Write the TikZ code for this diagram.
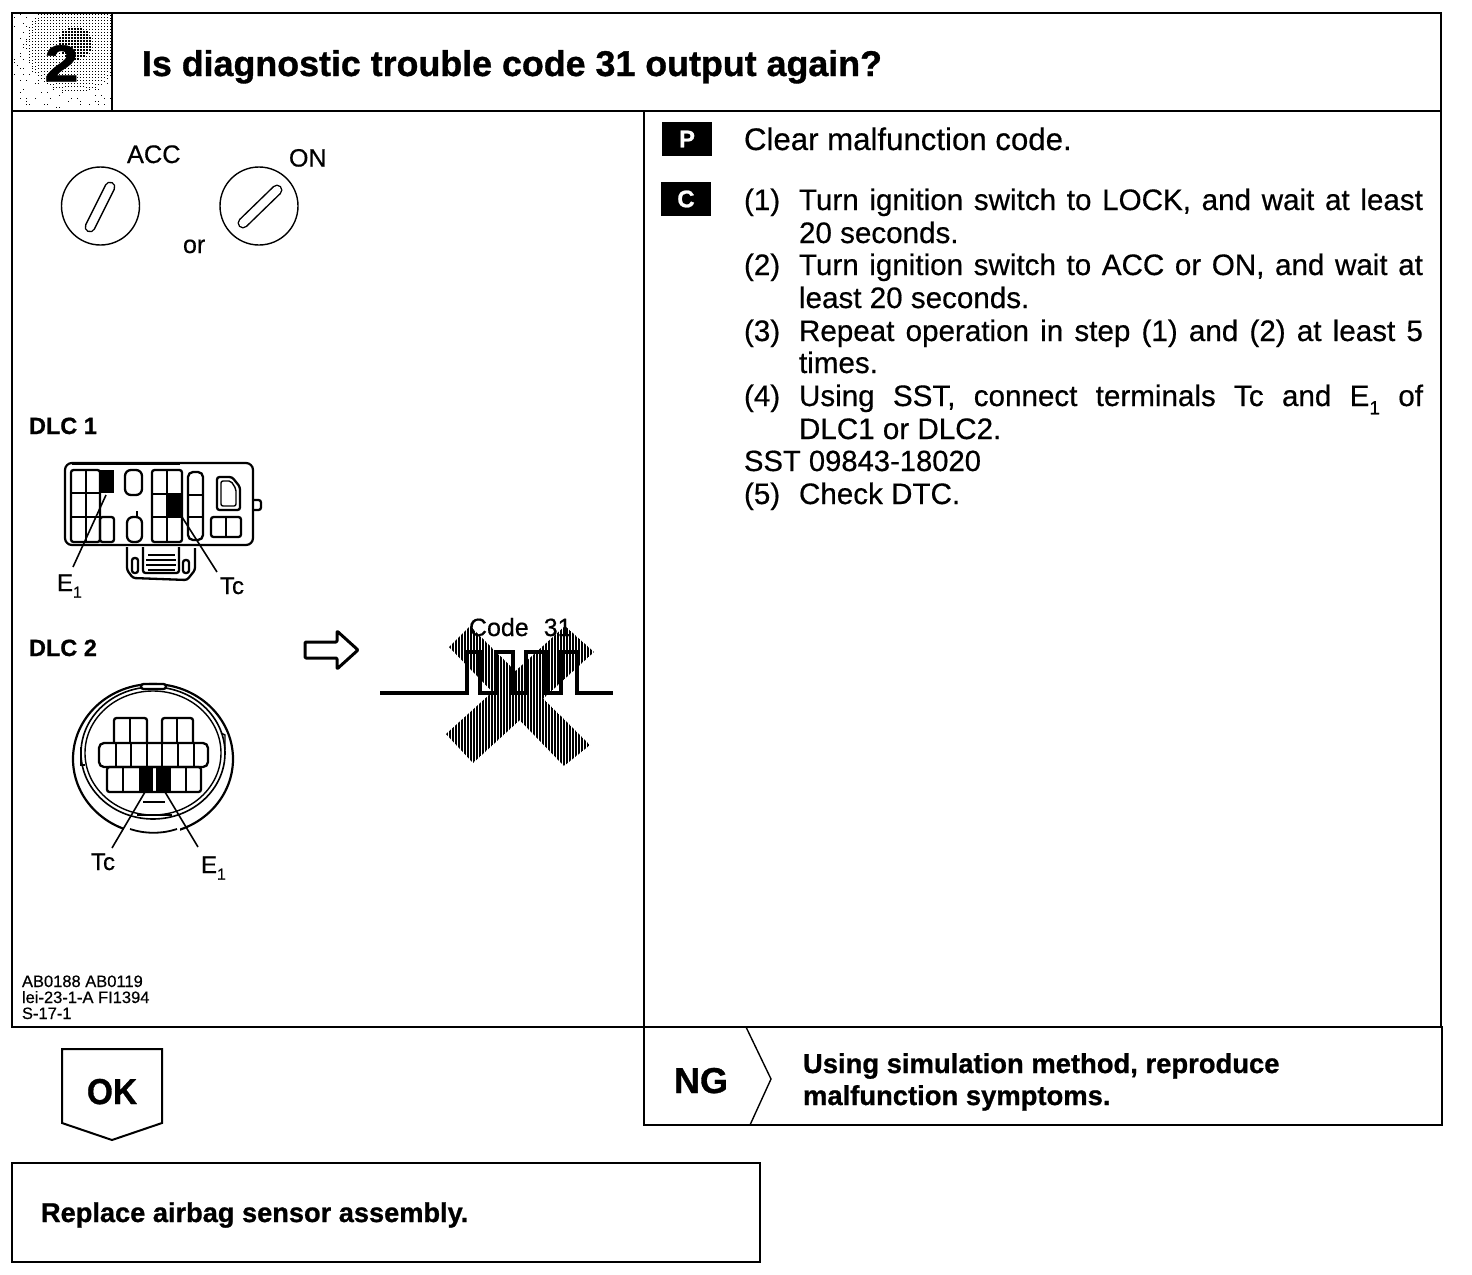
\documentclass[tikz,border=0pt]{standalone}
\usepackage{fontspec}
\setmainfont{Liberation Sans}[FakeBold=0.5,BoldFont={Liberation Sans Bold},BoldFeatures={FakeBold=0.9}]
\usetikzlibrary{patterns.meta}
\newcommand{\fsz}[1]{\fontsize{#1}{#1}\selectfont}
\newcommand{\subone}[1]{\raisebox{-0.28em}{\fontsize{#1}{#1}\selectfont 1}}
\tikzset{
  tx/.style={anchor=base west,inner sep=0pt,outer sep=0pt},
  body/.style={tx,font=\fsz{29.6}},
  boldbody/.style={tx,font=\fsz{27.4}\bfseries},
  small/.style={tx,font=\fsz{16.5}},
  lab/.style={tx,font=\fsz{24}},
  dlc/.style={tx,font=\fsz{23.5}\bfseries},
  frame/.style={line width=2.4pt,line cap=rect},
  thin/.style={line width=1.4pt},
  conn/.style={line width=2.3pt,rounded corners=2.5pt},
  leader/.style={line width=1.6pt},
  tag/.style={fill=black,text=white,minimum width=50pt,minimum height=34pt,inner sep=0pt,font=\fsz{24}\bfseries},
  hatch/.style={pattern={Lines[angle=90,distance=3pt,line width=1.3pt]},pattern color=black},
}
\begin{document}
\begin{tikzpicture}[x=1pt,y=-1pt]
\useasboundingbox (0,0) rectangle (1472,1274);
\fill[white] (0,0) rectangle (1472,1274);

% halftone number box
\pgfmathsetseed{7}
\foreach \i in {14,17,...,110}{
  \foreach \j in {15,18,...,109}{
    \pgfmathsetmacro{\dd}{sqrt((\i-74)*(\i-74)+(\j-44)*(\j-44))}
    \pgfmathsetmacro{\ss}{max(((rnd<0.14)?1.0:0),2.1*(1-\dd/58))}
    \ifdim\ss pt>0.35pt
      \fill[black] (\i,\j) rectangle ++(\ss pt,\ss pt);
    \fi
  }
}
\node[anchor=base,inner sep=0pt,font=\fsz{52}\bfseries,xscale=1.18] (num) at (61.5,81.5) {2};

% frames
\draw[frame] (12,13) rectangle (1441,1027);
\draw[frame] (12,111) -- (1441,111);
\draw[frame] (112,13) -- (112,111);
\draw[frame] (644,111) -- (644,1125) -- (1442,1125) -- (1442,1027);
\draw[frame] (12,1163) rectangle (760,1262);

% title
\node[tx,font=\fsz{35.8}\bfseries] (title) at (142,76) {Is diagnostic trouble code 31 output again?};

% key switches
\draw[thin] (100.5,206) circle [radius=39];
\draw[line width=11pt,line cap=round] (110,187) -- (90,227);
\draw[white,line width=8pt,line cap=round] (110,187) -- (90,227);
\draw[thin] (259,206) circle [radius=39];
\draw[line width=11pt,line cap=round] (277,190) -- (243,223);
\draw[white,line width=8pt,line cap=round] (277,190) -- (243,223);
\node[lab,font=\fsz{25.4}] (acc) at (127,163) {ACC};
\node[lab,font=\fsz{25}] (on) at (289,166.5) {ON};
\node[lab,font=\fsz{25}] (ortxt) at (183,253) {or};

% DLC 1
\node[dlc] (dlcone) at (29,434) {DLC 1};
\draw[line width=2.2pt,rounded corners=7pt] (65,463) rectangle (253,545);
\draw[line width=2.6pt] (72,463.5) -- (180,463.5);
\draw[conn] (253,500) -- (261,500) -- (261,510) -- (253,510);
\draw[conn] (71,470) rectangle (100,542);
\draw[conn] (86,470) -- (86,542) (71,493) -- (100,493) (71,517) -- (100,517);
\fill (99,470) rectangle (114,493);
\draw[conn] (100,517) rectangle (114,542);
\draw[conn,rounded corners=6pt] (125,470) rectangle (142,495);
\draw[conn,rounded corners=6pt] (127,517) rectangle (142,542);
\draw[line width=1.4pt] (137,511) -- (137,517);
\draw[conn] (152,470) rectangle (182,542);
\draw[conn] (167,470) -- (167,542) (152,494) -- (182,494) (152,517) -- (182,517);
\fill (167,494) rectangle (182,517);
\draw[conn,rounded corners=5pt] (188,472) rectangle (203,540);
\draw[conn] (188,495) -- (203,495) (188,517) -- (203,517);
\draw[conn] (217,477) -- (232,477) -- (240,487) -- (240,510) -- (217,510) -- cycle;
\draw[thin,rounded corners=2pt] (221,481) -- (231,481) -- (236,489) -- (236,506) -- (221,506) -- cycle;
\draw[conn] (211,517) rectangle (241,537);
\draw[conn] (226,517) -- (226,537);
\draw[conn,fill=white] (127,547) -- (127,570) -- (133,578) -- (187,580) -- (195,570) -- (195,548);
\draw[conn] (143,547) -- (143,573) -- (179,573) -- (179,547);
\draw[line width=1.6pt] (148,555) -- (175,555) (146,560) -- (176,560) (146,565) -- (176,565) (148,570) -- (175,570);
\draw[conn] (132,558) rectangle (138,573);
\draw[conn] (183,560) rectangle (189,573);
\node[lab] (eone) at (57,591) {E\subone{16}};
\node[lab] (tcone) at (220,594) {Tc};
\coordinate (ea) at (106,495);
\coordinate (eb) at (73,567);
\coordinate (ta) at (182,517);
\coordinate (tb) at (217,572);
\draw[leader] (ea) -- (eb);
\draw[leader] (ta) -- (tb);

% DLC 2
\node[dlc] (dlctwo) at (29,656) {DLC 2};
\draw[line width=2.2pt] (153,759) ellipse [x radius=80,y radius=75];
\draw[line width=1.6pt] (153,753) ellipse [x radius=72,y radius=66];
\draw[thin] (153,753) ellipse [x radius=68,y radius=62];
\draw[conn,fill=white] (141,689) -- (141,684) -- (166,684) -- (166,689) -- cycle;
\draw[thin] (81,747) -- (81,765) -- (85,765);
\draw[thin] (221,733) -- (225,735) -- (225,750);
\draw[conn] (114,743) -- (114,718) -- (147,718) -- (147,743);
\draw[conn] (162,743) -- (162,718) -- (193,718) -- (193,743);
\draw[conn] (130,718) -- (130,743) (177,718) -- (177,743);
\draw[line width=2.3pt,rounded corners=5pt] (99,743) rectangle (208,767);
\draw[conn] (116,743) -- (116,767) (131,743) -- (131,767) (147,743) -- (147,767) (162,743) -- (162,767) (178,743) -- (178,767) (194,743) -- (194,767);
\draw[conn] (107,767) rectangle (201,792);
\draw[conn] (123,767) -- (123,792) (186,767) -- (186,792);
\fill (139,767) rectangle (153,792);
\fill (156,767) rectangle (171,792);
\draw[thin] (143,802) -- (165,802);
\draw[line width=1.8pt] (137,815) -- (172,815);
\fill[white] (124,826) rectangle (180,840);
\draw[line width=1.8pt] (130,829) .. controls (145,834) and (162,834) .. (177,829);
\node[lab] (tctwo) at (91,870) {Tc};
\node[lab] (etwo) at (201,873) {E\subone{16}};
\coordinate (tc) at (145,792);
\coordinate (td) at (112,848);
\coordinate (ec) at (165,792);
\coordinate (ed) at (198,847);
\draw[leader] (tc) -- (td);
\draw[leader] (ec) -- (ed);

% arrow
\draw[line width=3pt,line join=round,rounded corners=1pt] (305,642) -- (337,642) -- (337,631) -- (358,650) -- (337,669) -- (337,658) -- (305,658) -- cycle;

% crossed-out code
\fill[hatch] (449,647) -- (470,626) -- (590,745) -- (564,766) -- cycle;
\fill[hatch] (565,626) -- (594,652) -- (473,763) -- (446,734) -- cycle;
\draw[line width=4pt,line join=miter] (380,693) -- (467,693) -- (467,652) -- (480,652) -- (480,693) -- (496,693) -- (496,652) -- (513,652) -- (513,693) -- (526,693) -- (526,652) -- (546,652) -- (546,693) -- (561,693) -- (561,652) -- (577,652) -- (577,693) -- (613,693);
\node[lab,font=\fsz{25}] (code) at (469,636) {Code\hspace{0.6em}31};

% credits
\node[small] (cra) at (22,987) {AB0188 AB0119};
\node[small] (crb) at (22,1003) {lei-23-1-A FI1394};
\node[small] (crc) at (22,1019) {S-17-1};

% right column
\node[tag] (p) at (687,139) {P};
\node[tag] (c) at (686,199) {C};
\node[body,font=\fsz{31.2}] (l0) at (744,150) {Clear malfunction code.};
\node[body] (n1) at (744,210) {(1)};
\node[body] (l1) at (799,210) {\makebox[624pt][s]{Turn ignition switch to LOCK, and wait at least}};
\node[body] (l2) at (799,243) {20 seconds.};
\node[body] (n2) at (744,275) {(2)};
\node[body] (l3) at (799,275) {\makebox[624pt][s]{Turn ignition switch to ACC or ON, and wait at}};
\node[body] (l4) at (799,308) {least 20 seconds.};
\node[body] (n3) at (744,341) {(3)};
\node[body] (l5) at (799,341) {\makebox[624pt][s]{Repeat operation in step (1) and (2) at least 5}};
\node[body] (l6) at (799,373) {times.};
\node[body] (n4) at (744,406) {(4)};
\node[body] (l7) at (799,406) {\makebox[624pt][s]{Using SST, connect terminals Tc and E\subone{19} of}};
\node[body] (l8) at (799,439) {DLC1 or DLC2.};
\node[body,font=\fsz{29.2}] (l9) at (744,471) {SST 09843-18020};
\node[body] (n5) at (744,504) {(5)};
\node[body] (l10) at (799,504) {Check DTC.};

% OK / NG
\draw[line width=2pt,line join=miter] (62,1049) -- (162,1049) -- (162,1123) -- (112,1140) -- (62,1123) -- cycle;
\node[anchor=base,inner sep=0pt,font=\fsz{36}\bfseries,xscale=0.93] (ok) at (112,1104) {OK};
\node[tx,font=\fsz{36}\bfseries] (ng) at (674,1093) {NG};
\draw[thin] (746,1027) -- (771,1079) -- (750,1125);
\node[boldbody] (nga) at (803,1073) {Using simulation method, reproduce};
\node[boldbody] (ngb) at (803,1105) {malfunction symptoms.};
\node[tx,font=\fsz{27.2}\bfseries] (rep) at (41,1222) {Replace airbag sensor assembly.};
\end{tikzpicture}
\end{document}
